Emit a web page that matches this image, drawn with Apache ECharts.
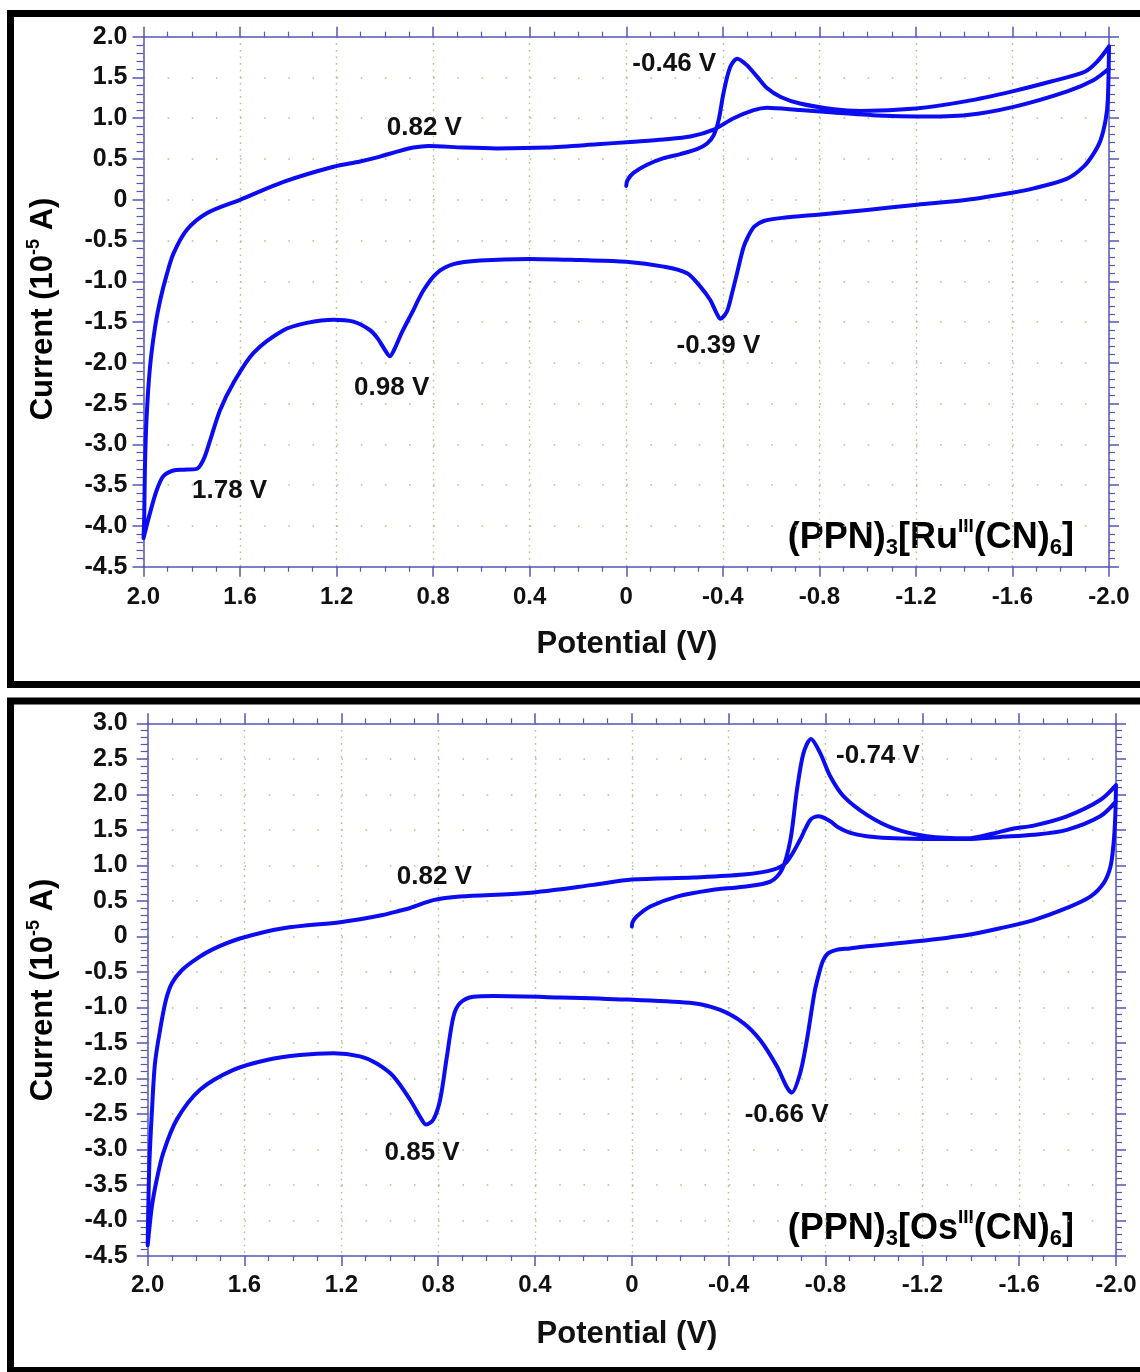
<!DOCTYPE html>
<html>
<head>
<meta charset="utf-8">
<title>Cyclic voltammograms of (PPN)3[M(CN)6]</title>
<script src="https://cdn.jsdelivr.net/npm/echarts/dist/echarts.min.js"></script>
<style>
  html, body { margin: 0; padding: 0; background: #ffffff; }
  #c { width: 1140px; height: 1372px; }
</style>
</head>
<body>
<div id="c"></div>
<script>
// ---------------- data: potential (V), current (10^-5 A) ----------------
// Ru complex: scan starts at 0 V toward -2.0 V, back to +2.0 V, then to -2.0 V
const ruScanToNegative = [
  [0.00, 0.17], [-0.005, 0.24], [-0.03, 0.33], [-0.086, 0.43], [-0.155, 0.51],
  [-0.224, 0.56], [-0.293, 0.62], [-0.335, 0.69], [-0.362, 0.79], [-0.383, 0.98],
  [-0.403, 1.31], [-0.431, 1.63], [-0.46, 1.73], [-0.50, 1.65], [-0.542, 1.51],
  [-0.583, 1.37], [-0.64, 1.26], [-0.72, 1.18], [-0.86, 1.11], [-0.97, 1.09],
  [-1.2, 1.12], [-1.41, 1.21], [-1.6, 1.33], [-1.76, 1.45], [-1.9, 1.57],
  [-1.95, 1.69], [-2.0, 1.88]
];
const ruScanToPositive = [
  [-1.995, 1.22], [-1.986, 0.98], [-1.965, 0.73], [-1.937, 0.57], [-1.896, 0.41],
  [-1.827, 0.26], [-1.688, 0.14], [-1.605, 0.09], [-1.412, 0.0], [-1.205, -0.06],
  [-0.998, -0.125], [-0.804, -0.18], [-0.652, -0.22], [-0.57, -0.26], [-0.53, -0.33],
  [-0.505, -0.45], [-0.486, -0.58], [-0.459, -0.90], [-0.438, -1.15], [-0.417, -1.37],
  [-0.39, -1.46], [-0.374, -1.39], [-0.348, -1.23], [-0.307, -1.065], [-0.252, -0.90],
  [-0.155, -0.82], [0.0, -0.76], [0.19, -0.74], [0.40, -0.725], [0.605, -0.745],
  [0.716, -0.79], [0.785, -0.90], [0.84, -1.11], [0.89, -1.40], [0.93, -1.63],
  [0.96, -1.83], [0.98, -1.92], [1.00, -1.84], [1.03, -1.70], [1.061, -1.60],
  [1.13, -1.495], [1.213, -1.47], [1.323, -1.51], [1.42, -1.60], [1.545, -1.88],
  [1.628, -2.25], [1.683, -2.58], [1.724, -2.95], [1.752, -3.19], [1.78, -3.30],
  [1.835, -3.31], [1.876, -3.32], [1.918, -3.39], [1.945, -3.56], [1.973, -3.84],
  [2.0, -4.15]
];
const ruScanBackToNegative = [
  [1.997, -3.89], [1.994, -3.27], [1.987, -2.66], [1.973, -2.05], [1.952, -1.56],
  [1.93, -1.22], [1.905, -0.93], [1.876, -0.66], [1.821, -0.37], [1.738, -0.165],
  [1.6, 0.0], [1.42, 0.22], [1.213, 0.405], [1.103, 0.47], [1.02, 0.53],
  [0.95, 0.59], [0.882, 0.64], [0.82, 0.66], [0.674, 0.64], [0.536, 0.63],
  [0.329, 0.64], [0.121, 0.68], [-0.017, 0.71], [-0.155, 0.74], [-0.265, 0.775],
  [-0.362, 0.86], [-0.445, 1.0], [-0.528, 1.10], [-0.583, 1.13], [-0.72, 1.10],
  [-0.859, 1.07], [-1.067, 1.03], [-1.205, 1.02], [-1.412, 1.04], [-1.605, 1.14],
  [-1.827, 1.33], [-1.937, 1.47], [-2.0, 1.61]
];
// labelled peak / wave positions [potential, current]
const ruPeaks = [[-0.46, 1.73], [0.82, 0.66], [-0.39, -1.46], [0.98, -1.92], [1.78, -3.30]];

// Os complex
const osScanToNegative = [
  [0.0, 0.14], [-0.003, 0.20], [-0.02, 0.28], [-0.076, 0.42], [-0.186, 0.56],
  [-0.324, 0.65], [-0.461, 0.70], [-0.572, 0.77], [-0.62, 0.94], [-0.655, 1.36],
  [-0.682, 2.06], [-0.709, 2.58], [-0.74, 2.78], [-0.778, 2.58], [-0.82, 2.25],
  [-0.875, 1.97], [-0.971, 1.71], [-1.081, 1.52], [-1.219, 1.41], [-1.385, 1.38],
  [-1.494, 1.45], [-1.577, 1.52], [-1.66, 1.56], [-1.797, 1.69], [-1.935, 1.92],
  [-2.0, 2.13]
];
const osScanToPositive = [
  [-1.997, 1.69], [-1.99, 1.31], [-1.977, 0.98], [-1.949, 0.75], [-1.894, 0.56],
  [-1.797, 0.40], [-1.66, 0.23], [-1.522, 0.115], [-1.384, 0.02], [-1.178, -0.07],
  [-0.971, -0.14], [-0.90, -0.17], [-0.845, -0.19], [-0.81, -0.24], [-0.79, -0.34],
  [-0.775, -0.50], [-0.755, -0.78], [-0.723, -1.46], [-0.695, -1.93], [-0.66, -2.20],
  [-0.64, -2.12], [-0.599, -1.83], [-0.53, -1.46], [-0.461, -1.22], [-0.365, -1.035],
  [-0.255, -0.94], [0.021, -0.89], [0.296, -0.86], [0.572, -0.84], [0.655, -0.85],
  [0.71, -0.94], [0.737, -1.13], [0.764, -1.69], [0.792, -2.30], [0.82, -2.58],
  [0.85, -2.65], [0.868, -2.58], [0.916, -2.30], [0.985, -1.97], [1.054, -1.79],
  [1.123, -1.69], [1.233, -1.645], [1.371, -1.67], [1.508, -1.74], [1.646, -1.88],
  [1.784, -2.16], [1.88, -2.58], [1.936, -3.05], [1.963, -3.43], [1.983, -3.81],
  [2.0, -4.35]
];
const osScanBackToNegative = [
  [1.998, -3.90], [1.993, -3.19], [1.983, -2.49], [1.97, -1.79], [1.949, -1.32],
  [1.925, -0.90], [1.9, -0.66], [1.86, -0.48], [1.80, -0.32], [1.73, -0.18],
  [1.619, -0.03], [1.44, 0.115], [1.205, 0.20], [1.123, 0.24], [1.03, 0.30],
  [0.96, 0.36], [0.916, 0.40], [0.82, 0.51], [0.71, 0.56], [0.434, 0.61],
  [0.159, 0.725], [0.0, 0.80], [-0.255, 0.83], [-0.461, 0.87], [-0.585, 0.94],
  [-0.64, 1.05], [-0.695, 1.36], [-0.737, 1.64], [-0.771, 1.69], [-0.82, 1.62],
  [-0.85, 1.54], [-0.90, 1.46], [-0.97, 1.41], [-1.06, 1.385], [-1.246, 1.37],
  [-1.384, 1.37], [-1.522, 1.40], [-1.66, 1.43], [-1.797, 1.50], [-1.935, 1.69],
  [-2.0, 1.90]
];
const osPeaks = [[-0.74, 2.78], [0.82, 0.51], [-0.66, -2.20], [0.85, -2.65]];

// axis ranges and ticks
const potentialRange = [-2.0, 2.0];
const potentialStep = 0.4;
const ruCurrentRange = [-4.5, 2.0];
const osCurrentRange = [-4.5, 3.0];
const currentStep = 0.5;

// ---------------- styling ----------------
const FONT = "'Liberation Sans', Arial, Helvetica, sans-serif";
const AXIS_COLOR = '#5656b8';
const GRID_COLOR = '#a6c78c';
const TRACE_COLOR = '#0c0cf2';
const TEXT_COLOR = '#111111';

// plot rectangles in px
const frames = [
  { left: 143.5, top: 36.7, width: 965.5, height: 530, xMargin: 19, yMargin: 16 },
  { left: 147.7, top: 723.3, width: 968.3, height: 532.7, xMargin: 17, yMargin: 20 }
];
// label offsets (px) of the peak annotations relative to their points
const ruPeakOffsets = [[-63, 5], [-4, -18], [-2, 27], [2, 31], [33, 22]];
const osPeakOffsets = [[67, 17], [1, -23], [-5, 22], [-4, 28]];

function fmtTick(v) {
  if (Math.abs(v) < 1e-9) return '0';
  return v.toFixed(1);
}

function axesFor(gi, frame, yRange) {
  const line = { show: true, onZero: false, lineStyle: { color: AXIS_COLOR, width: 1.5 } };
  const labelStyle = { fontFamily: FONT, fontWeight: 'bold', color: TEXT_COLOR };
  const tenthPx = frame.width / 40;
  const xBase = {
    type: 'value', gridIndex: gi, min: potentialRange[0], max: potentialRange[1],
    interval: potentialStep, inverse: true, axisLine: line
  };
  const yBase = {
    type: 'value', gridIndex: gi, min: yRange[0], max: yRange[1],
    interval: currentStep, axisLine: line
  };
  const xAxes = [
    Object.assign({}, xBase, {
      position: 'bottom',
      axisTick: { show: true, length: 10, lineStyle: { color: AXIS_COLOR, width: 1.5 } },
      minorTick: { show: true, splitNumber: 4, length: 5, lineStyle: { color: AXIS_COLOR, width: 1.2 } },
      axisLabel: Object.assign({ show: true, margin: frame.xMargin, formatter: fmtTick, fontSize: 24,
        showMinLabel: true, showMaxLabel: true }, labelStyle),
      splitLine: { show: true, lineStyle: { color: GRID_COLOR, width: 1.4, type: [1.6, 5] } },
      minorSplitLine: { show: false }
    }),
    Object.assign({}, xBase, {
      position: 'top',
      axisTick: { show: true, length: 10, lineStyle: { color: AXIS_COLOR, width: 1.5 } },
      minorTick: { show: true, splitNumber: 4, length: 5, lineStyle: { color: AXIS_COLOR, width: 1.2 } },
      axisLabel: { show: false },
      splitLine: { show: false }
    })
  ];
  const yAxes = [
    Object.assign({}, yBase, {
      position: 'left',
      axisTick: { show: true, length: 11, lineStyle: { color: AXIS_COLOR, width: 1.5 } },
      minorTick: { show: true, splitNumber: 5, length: 7, lineStyle: { color: AXIS_COLOR, width: 1.2 } },
      axisLabel: Object.assign({ show: true, margin: frame.yMargin, formatter: fmtTick, fontSize: 25,
        showMinLabel: true, showMaxLabel: true }, labelStyle),
      splitLine: { show: true, lineStyle: { color: GRID_COLOR, width: 1.6, type: [1.6, tenthPx - 1.6] } }
    }),
    Object.assign({}, yBase, {
      position: 'right',
      axisTick: { show: true, length: 10, lineStyle: { color: AXIS_COLOR, width: 1.5 } },
      minorTick: { show: true, splitNumber: 5, length: 6, lineStyle: { color: AXIS_COLOR, width: 1.2 } },
      axisLabel: { show: false },
      splitLine: { show: false }
    })
  ];
  return { xAxes, yAxes };
}

function peakMarks(peaks, offsets) {
  return {
    symbol: 'circle',
    symbolSize: 1,
    silent: true,
    itemStyle: { color: 'rgba(0,0,0,0)' },
    label: {
      show: true, position: 'inside',
      fontFamily: FONT, fontSize: 26, fontWeight: 'bold', color: TEXT_COLOR
    },
    data: peaks.map((p, i) => ({
      coord: p,
      label: { formatter: p[0].toFixed(2) + ' V', offset: offsets[i] }
    }))
  };
}

function traceSeries(xi, yi, data, marks) {
  return {
    type: 'line',
    xAxisIndex: xi, yAxisIndex: yi,
    data: data,
    showSymbol: false,
    smooth: 0.3,
    clip: true,
    lineStyle: { color: TRACE_COLOR, width: 4, cap: 'round', join: 'round' },
    itemStyle: { color: TRACE_COLOR },
    markPoint: marks,
    z: 3
  };
}

const a0 = axesFor(0, frames[0], ruCurrentRange);
const a1 = axesFor(1, frames[1], osCurrentRange);

const titleRich = {
  a: { fontFamily: FONT, fontSize: 31, fontWeight: 'bold', color: TEXT_COLOR, lineHeight: 36 },
  s: { fontFamily: FONT, fontSize: 18, fontWeight: 'bold', color: TEXT_COLOR, lineHeight: 14, verticalAlign: 'top' }
};
const compoundRich = {
  m: { fontFamily: FONT, fontSize: 36, fontWeight: 'bold', color: TEXT_COLOR, lineHeight: 42 },
  sb: { fontFamily: FONT, fontSize: 22, fontWeight: 'bold', color: TEXT_COLOR, lineHeight: 24, verticalAlign: 'bottom' },
  sp: { fontFamily: FONT, fontSize: 19, fontWeight: 'bold', color: TEXT_COLOR, lineHeight: 30, verticalAlign: 'top' }
};

function panelGraphics(top, bottom, currentY, potentialY, compoundY, metal) {
  return [
    { type: 'rect', shape: { x: 10.5, y: top, width: 1150, height: bottom - top },
      style: { fill: 'none', stroke: '#000', lineWidth: 7 }, z: 10 },
    { type: 'text', x: 43, y: currentY, rotation: Math.PI / 2,
      style: { text: '{a|Current (10}{s|-5}{a| A)}', rich: titleRich, align: 'center', verticalAlign: 'middle' } },
    { type: 'text', x: 627, y: potentialY,
      style: { text: 'Potential (V)', font: 'bold 31px ' + FONT, fill: TEXT_COLOR, align: 'center', verticalAlign: 'middle' } },
    { type: 'text', x: 1074, y: compoundY,
      style: { text: '{m|(PPN)}{sb|3}{m|[' + metal + '}{sp|III}{m|(CN)}{sb|6}{m|]}',
        rich: compoundRich, align: 'right', verticalAlign: 'middle' } }
  ];
}

const chart = echarts.init(document.getElementById('c'), null, { renderer: 'canvas', width: 1140, height: 1372 });

chart.setOption({
  animation: false,
  backgroundColor: '#ffffff',
  grid: frames.map(f => ({
    left: f.left, top: f.top, width: f.width, height: f.height,
    containLabel: false, outerBoundsMode: 'none', show: false
  })),
  xAxis: a0.xAxes.concat(a1.xAxes),
  yAxis: a0.yAxes.concat(a1.yAxes),
  series: [
    traceSeries(0, 0, ruScanToNegative.concat(ruScanToPositive, ruScanBackToNegative),
      peakMarks(ruPeaks, ruPeakOffsets)),
    traceSeries(2, 2, osScanToNegative.concat(osScanToPositive, osScanBackToNegative),
      peakMarks(osPeaks, osPeakOffsets))
  ],
  graphic: panelGraphics(13.5, 684.5, 309, 644, 538, 'Ru')
    .concat(panelGraphics(701, 1370.5, 990, 1334, 1229, 'Os'))
});
</script>
</body>
</html>
